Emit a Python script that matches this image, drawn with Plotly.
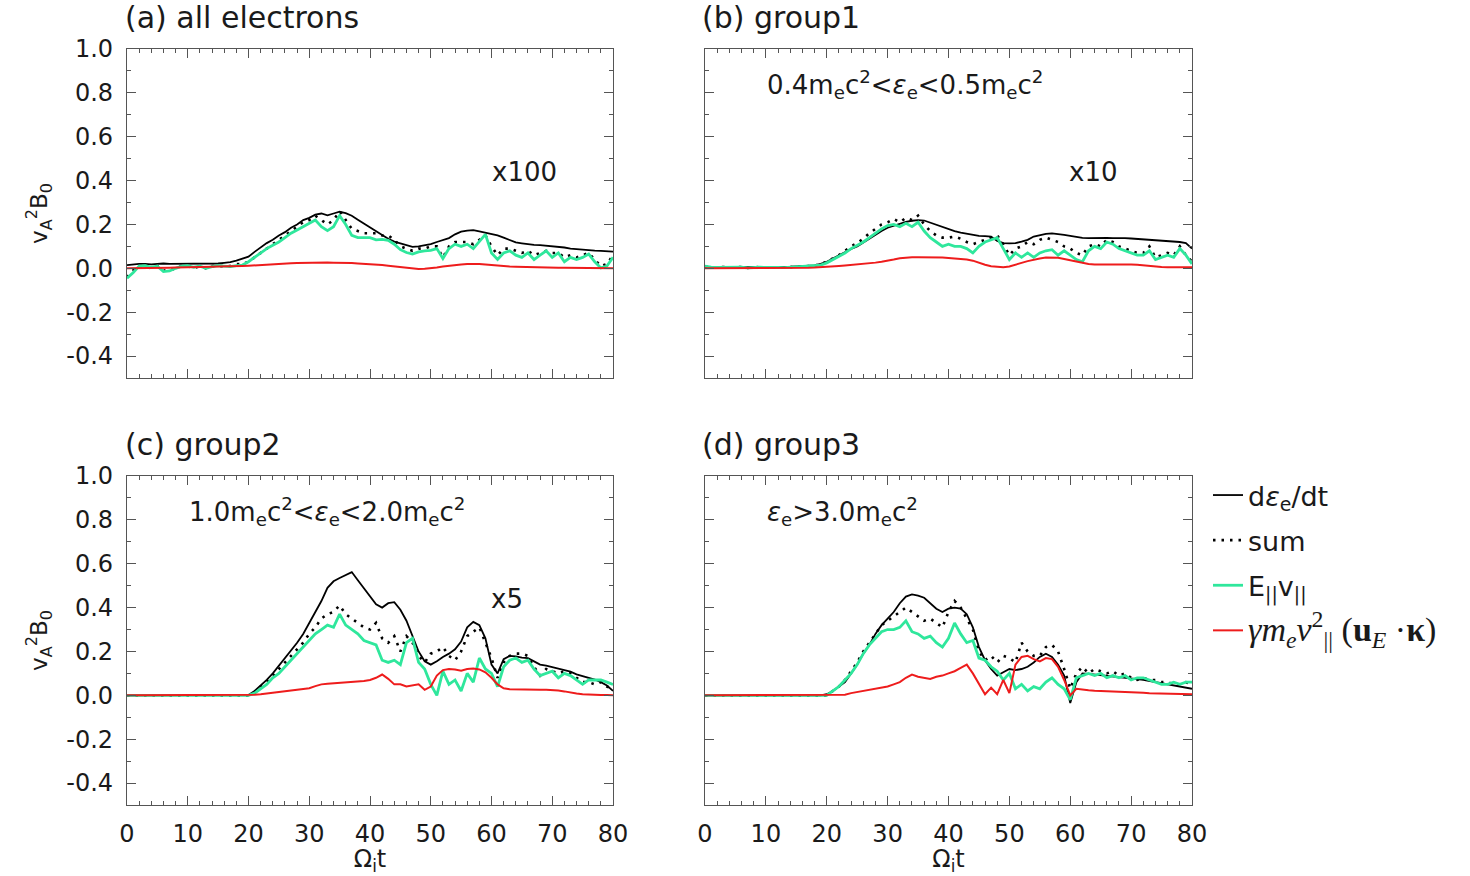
import plotly.graph_objects as go

# Time axis, Omega_i t
T = list(range(81))

# Tick labels (plain hyphen for negatives)
Y_TICKS = [-0.4, -0.2, 0.0, 0.2, 0.4, 0.6, 0.8, 1.0]
Y_TICK_TEXT = ["-0.4", "-0.2", "0.0", "0.2", "0.4", "0.6", "0.8", "1.0"]
X_TICKS = [0, 10, 20, 30, 40, 50, 60, 70, 80]

# ---- (a) all electrons (x100) ----
a_dedt = [0.015, 0.018, 0.02, 0.02, 0.018, 0.02, 0.022, 0.02, 0.02, 0.022,
          0.02, 0.021, 0.02, 0.022, 0.02, 0.022, 0.025, 0.028, 0.035, 0.045,
          0.053, 0.075, 0.095, 0.115, 0.13, 0.15, 0.165, 0.185, 0.2, 0.22,
          0.23, 0.245, 0.25, 0.242, 0.25, 0.258, 0.252, 0.24, 0.222, 0.205,
          0.19, 0.17, 0.152, 0.135, 0.122, 0.114, 0.105, 0.098, 0.1, 0.104,
          0.11, 0.12, 0.128, 0.138, 0.155, 0.167, 0.172, 0.174, 0.168, 0.162,
          0.158, 0.15, 0.14, 0.128, 0.118, 0.114, 0.11, 0.107, 0.106, 0.104,
          0.1, 0.098, 0.095, 0.09, 0.087, 0.085, 0.083, 0.081, 0.08, 0.078,
          0.076]
a_sum = [-0.04, -0.01, 0.01, 0.01, 0.0, 0.01, -0.01, -0.01, 0.0, 0.01,
         0.01, 0.0, 0.01, 0.0, 0.01, 0.01, 0.01, 0.01, 0.02, 0.02,
         0.03, 0.05, 0.07, 0.09, 0.11, 0.13, 0.15, 0.17, 0.19, 0.21,
         0.22, 0.24, 0.22, 0.20, 0.22, 0.26, 0.22, 0.18, 0.17, 0.16,
         0.16, 0.16, 0.15, 0.15, 0.13, 0.10, 0.09, 0.08, 0.09, 0.09,
         0.10, 0.10, 0.05, 0.10, 0.12, 0.12, 0.12, 0.11, 0.13, 0.15,
         0.10, 0.06, 0.09, 0.09, 0.08, 0.07, 0.08, 0.06, 0.07, 0.08,
         0.07, 0.07, 0.05, 0.06, 0.05, 0.06, 0.07, 0.04, 0.01, 0.02,
         0.06]
a_epar = [-0.045, -0.02, 0.01, 0.012, 0.005, 0.01, -0.015, -0.012, 0.0, 0.01,
          0.012, 0.005, 0.01, 0.0, 0.008, 0.012, 0.01, 0.008, 0.012, 0.015,
          0.03, 0.05, 0.07, 0.09, 0.105, 0.12, 0.14, 0.16, 0.175, 0.19,
          0.205, 0.22, 0.19, 0.172, 0.19, 0.24, 0.2, 0.15, 0.14, 0.14,
          0.14, 0.13, 0.132, 0.128, 0.11, 0.085, 0.072, 0.065, 0.075, 0.08,
          0.082, 0.09, 0.045, 0.09, 0.11, 0.1, 0.11, 0.09, 0.12, 0.155,
          0.07, 0.04, 0.07, 0.08, 0.06, 0.05, 0.07, 0.04, 0.06, 0.08,
          0.05, 0.07, 0.03, 0.05, 0.04, 0.05, 0.065, 0.03, 0.002, 0.01,
          0.05]
a_curv = [0.0, 0.0, 0.001, 0.001, 0.002, 0.002, 0.003, 0.003, 0.004, 0.004,
          0.005, 0.005, 0.006, 0.006, 0.007, 0.008, 0.008, 0.009, 0.01, 0.011,
          0.012, 0.014, 0.016, 0.018, 0.019, 0.02, 0.022, 0.023, 0.024, 0.025,
          0.026, 0.027, 0.027, 0.027, 0.026, 0.026, 0.025, 0.024, 0.022, 0.021,
          0.019, 0.017, 0.015, 0.012, 0.009, 0.006, 0.002, -0.002, -0.003, -0.002,
          0.0, 0.004, 0.008, 0.012, 0.015, 0.018, 0.02, 0.021, 0.02, 0.018,
          0.015, 0.012, 0.01, 0.008, 0.007, 0.006, 0.005, 0.005, 0.004, 0.004,
          0.004, 0.003, 0.003, 0.003, 0.002, 0.002, 0.002, 0.001, 0.001, 0.001,
          0.0]

# ---- (b) group1 (x10) ----
b_dedt = [0.005, 0.006, 0.005, 0.006, 0.005, 0.005, 0.006, 0.006, 0.005, 0.006,
          0.006, 0.007, 0.007, 0.008, 0.008, 0.009, 0.01, 0.011, 0.013, 0.02,
          0.03, 0.045, 0.06, 0.075, 0.088, 0.1, 0.118, 0.134, 0.152, 0.17,
          0.185, 0.195, 0.203, 0.212, 0.217, 0.22, 0.218, 0.208, 0.197, 0.187,
          0.178, 0.17, 0.163, 0.158, 0.152, 0.148, 0.147, 0.145, 0.125, 0.115,
          0.114, 0.115, 0.122, 0.13, 0.145, 0.152, 0.157, 0.159, 0.157, 0.153,
          0.148, 0.142, 0.139, 0.138, 0.139, 0.14, 0.139, 0.138, 0.139, 0.138,
          0.136, 0.134, 0.132, 0.131, 0.13, 0.128, 0.126, 0.124, 0.12, 0.115,
          0.09]
b_sum = [0.008, 0.005, 0.004, 0.006, 0.003, 0.005, 0.006, 0.002, 0.005, 0.006,
         0.004, 0.006, 0.005, 0.003, 0.006, 0.007, 0.008, 0.009, 0.012, 0.02,
         0.03, 0.045, 0.06, 0.08, 0.10, 0.115, 0.135, 0.16, 0.18, 0.20,
         0.21, 0.225, 0.21, 0.23, 0.22, 0.24, 0.20, 0.17, 0.15, 0.14,
         0.14, 0.145, 0.135, 0.12, 0.11, 0.12, 0.13, 0.14, 0.15, 0.11,
         0.06, 0.09, 0.10, 0.12, 0.11, 0.13, 0.14, 0.13, 0.12, 0.10,
         0.09, 0.07, 0.06, 0.10, 0.11, 0.10, 0.13, 0.12, 0.10, 0.09,
         0.08, 0.07, 0.07, 0.10, 0.05, 0.06, 0.07, 0.06, 0.10, 0.06,
         0.03]
b_epar = [0.01, 0.005, 0.004, 0.005, 0.003, 0.004, 0.005, 0.002, 0.004, 0.005,
          0.004, 0.005, 0.004, 0.003, 0.005, 0.006, 0.007, 0.008, 0.01, 0.015,
          0.025, 0.04, 0.055, 0.07, 0.09, 0.105, 0.12, 0.14, 0.16, 0.18,
          0.195, 0.20, 0.19, 0.205, 0.19, 0.21, 0.17, 0.14, 0.12, 0.10,
          0.11, 0.10, 0.10, 0.09, 0.07, 0.10, 0.12, 0.13, 0.14, 0.09,
          0.04, 0.07, 0.05, 0.07, 0.05, 0.07, 0.08, 0.085, 0.06, 0.08,
          0.06, 0.04, 0.03, 0.08, 0.10, 0.09, 0.12, 0.11, 0.09, 0.08,
          0.07, 0.06, 0.06, 0.08, 0.04, 0.05, 0.06, 0.05, 0.09, 0.06,
          0.02]
b_curv = [0.0, 0.0, 0.0, 0.0, 0.0, 0.0, 0.0, 0.0, 0.0, 0.0,
          0.001, 0.001, 0.001, 0.002, 0.002, 0.002, 0.003, 0.003, 0.004, 0.005,
          0.007, 0.009, 0.011, 0.013, 0.015, 0.017, 0.02, 0.023, 0.026, 0.03,
          0.034, 0.04, 0.046, 0.05, 0.051, 0.051, 0.051, 0.05, 0.05, 0.049,
          0.047, 0.045, 0.043, 0.04, 0.035, 0.025, 0.016, 0.01, 0.006, 0.005,
          0.008, 0.015, 0.025, 0.033, 0.04, 0.045, 0.049, 0.05, 0.048, 0.043,
          0.037, 0.03, 0.024, 0.02, 0.018, 0.018, 0.019, 0.02, 0.02, 0.019,
          0.018, 0.016, 0.013, 0.01, 0.008, 0.006, 0.005, 0.005, 0.005, 0.005,
          0.005]

# ---- (c) group2 (x5) ----
c_dedt = [0.0] * 20 + [
    0.002, 0.02, 0.045, 0.07, 0.1, 0.135, 0.17, 0.2, 0.24, 0.28,
    0.33, 0.38, 0.43, 0.49, 0.52, 0.535, 0.55, 0.562, 0.525, 0.49,
    0.455, 0.415, 0.4, 0.42, 0.425, 0.39, 0.34, 0.27, 0.2, 0.155,
    0.14, 0.155, 0.175, 0.19, 0.21, 0.245, 0.31, 0.335, 0.32, 0.26,
    0.14, 0.1, 0.165, 0.18, 0.178, 0.172, 0.17, 0.155, 0.14, 0.135,
    0.13, 0.122, 0.115, 0.108, 0.096, 0.088, 0.08, 0.072, 0.06, 0.045,
    0.02]
c_sum = [0.0] * 21 + [
    0.015, 0.04, 0.06, 0.09, 0.12, 0.15, 0.18, 0.21, 0.24,
    0.28, 0.31, 0.35, 0.37, 0.38, 0.41, 0.37, 0.35, 0.33, 0.31,
    0.30, 0.33, 0.26, 0.24, 0.27, 0.20, 0.27, 0.24, 0.18, 0.15,
    0.19, 0.20, 0.22, 0.18, 0.16, 0.20, 0.27, 0.29, 0.31, 0.24,
    0.17, 0.08, 0.15, 0.18, 0.19, 0.19, 0.18, 0.13, 0.09, 0.12,
    0.11, 0.10, 0.11, 0.10, 0.08, 0.06, 0.06, 0.05, 0.06, 0.04,
    0.03]
c_epar = [0.0] * 21 + [
    0.01, 0.03, 0.05, 0.08, 0.10, 0.13, 0.16, 0.19, 0.22,
    0.25, 0.28, 0.30, 0.32, 0.31, 0.37, 0.32, 0.30, 0.28, 0.25,
    0.24, 0.23, 0.16, 0.15, 0.16, 0.14, 0.24, 0.26, 0.15, 0.12,
    0.05, 0.0, 0.11, 0.05, 0.07, 0.02, 0.10, 0.06, 0.17, 0.12,
    0.10, 0.04, 0.13, 0.16, 0.17, 0.15, 0.16, 0.12, 0.09, 0.10,
    0.11, 0.08, 0.10, 0.09, 0.07, 0.05, 0.07, 0.07, 0.07, 0.06,
    0.05]
c_curv = [0.0] * 20 + [
    0.001, 0.003, 0.005, 0.008, 0.011, 0.015, 0.018, 0.022, 0.025, 0.028,
    0.032, 0.042, 0.05, 0.053, 0.055, 0.056, 0.056, 0.058, 0.06, 0.065,
    0.07, 0.08, 0.095, 0.075, 0.05, 0.05, 0.04, 0.045, 0.05, 0.025,
    0.04, 0.09, 0.115, 0.12, 0.118, 0.112, 0.12, 0.122, 0.118, 0.105,
    0.08, 0.05, 0.032, 0.028, 0.027, 0.026, 0.025, 0.025, 0.026, 0.026,
    0.025, 0.022, 0.018, 0.012, 0.008, 0.005, 0.003, 0.002, 0.001, 0.001,
    0.0]

# ---- (d) group3 ----
d_dedt = [0.0] * 20 + [
    0.005, 0.02, 0.04, 0.06, 0.1, 0.14, 0.19, 0.23, 0.28, 0.32,
    0.35, 0.38, 0.42, 0.45, 0.46, 0.455, 0.445, 0.42, 0.395, 0.38,
    0.395, 0.4, 0.395, 0.37, 0.31, 0.22, 0.16, 0.12, 0.09, 0.105,
    0.12, 0.115, 0.12, 0.13, 0.15, 0.175, 0.19, 0.175, 0.14, 0.09,
    -0.035, 0.06, 0.1, 0.098, 0.095, 0.092, 0.09, 0.088, 0.086, 0.082,
    0.078, 0.074, 0.07, 0.065, 0.06, 0.055, 0.05, 0.045, 0.04, 0.035,
    0.03]
d_sum = [0.0] * 21 + [
    0.02, 0.04, 0.07, 0.11, 0.15, 0.20, 0.24, 0.28, 0.32,
    0.34, 0.36, 0.38, 0.40, 0.38, 0.36, 0.34, 0.35, 0.33, 0.31,
    0.38, 0.43, 0.40, 0.35, 0.30, 0.20, 0.16, 0.18, 0.15, 0.18,
    0.17, 0.15, 0.24, 0.20, 0.18, 0.18, 0.22, 0.23, 0.20, 0.12,
    0.03, 0.10, 0.13, 0.10, 0.12, 0.11, 0.10, 0.11, 0.09, 0.10,
    0.08, 0.07, 0.08, 0.07, 0.07, 0.06, 0.06, 0.05, 0.05, 0.06,
    0.05]
d_epar = [0.0] * 21 + [
    0.02, 0.04, 0.07, 0.10, 0.14, 0.19, 0.23, 0.26, 0.29,
    0.30, 0.30, 0.31, 0.34, 0.29, 0.28, 0.26, 0.27, 0.24, 0.22,
    0.26, 0.33, 0.28, 0.24, 0.25, 0.17, 0.16, 0.13, 0.11, 0.07,
    0.10, 0.03, 0.05, 0.02, 0.04, 0.03, 0.06, 0.08, 0.05, 0.03,
    -0.02, 0.08, 0.09, 0.10, 0.09, 0.10, 0.08, 0.09, 0.08, 0.09,
    0.07, 0.08, 0.08, 0.07, 0.06, 0.05, 0.05, 0.06, 0.05, 0.06,
    0.06]
d_curv = [0.0] * 23 + [
    0.003, 0.01, 0.015, 0.02, 0.025, 0.03, 0.035,
    0.04, 0.05, 0.06, 0.08, 0.095, 0.085, 0.08, 0.075, 0.085, 0.09,
    0.10, 0.11, 0.125, 0.14, 0.10, 0.05, 0.005, 0.035, 0.005, 0.07,
    0.01, 0.14, 0.175, 0.18, 0.165, 0.155, 0.17, 0.165, 0.13, 0.07,
    0.0, 0.03, 0.025, 0.023, 0.021, 0.02, 0.018, 0.02, 0.018, 0.016,
    0.015, 0.013, 0.012, 0.01, 0.009, 0.008, 0.007, 0.006, 0.005, 0.005,
    0.005]

PANELS = [
    ("x", "y", a_dedt, a_sum, a_epar, a_curv),
    ("x2", "y2", b_dedt, b_sum, b_epar, b_curv),
    ("x3", "y3", c_dedt, c_sum, c_epar, c_curv),
    ("x4", "y4", d_dedt, d_sum, d_epar, d_curv),
]

SERIES_NAMES = [
    "d<i>ε</i><sub>e</sub>/dt",
    "sum",
    "E<sub>||</sub>v<sub>||</sub>",
    '<span style="font-family:\'Liberation Serif\';font-size:34px">'
    '<i>γm</i><sub><i>e</i></sub><i>v</i><sup>2</sup><sub>||</sub> '
    '(<b>u</b><sub><i>E</i></sub> ·<b>κ</b>)</span>',
]
GREEN = "#2fe79c"
RED = "#ee1c1c"
SERIES_STYLE = [
    dict(color="black", width=1.8),
    dict(color="black", width=2.6, dash="2.5px,6px"),
    dict(color=GREEN, width=2.8),
    dict(color=RED, width=2),
]

FONT = "DejaVu Sans"
INK = "#1a1a1a"
AX = "#555555"

fig = go.Figure()
for p, (xa, ya, *series) in enumerate(PANELS):
    for k, vals in enumerate(series):
        fig.add_trace(go.Scatter(
            x=T, y=vals, xaxis=xa, yaxis=ya, mode="lines",
            line=SERIES_STYLE[k], name=SERIES_NAMES[k],
            legendgroup=f"s{k}", showlegend=(p == 0),
        ))

W, H = 1470, 876
XL = [127 / W, 613 / W]
XR = [705 / W, 1192 / W]
YT = [1 - 378 / H, 1 - 49 / H]
YB = [1 - 805 / H, 1 - 476 / H]


def xaxis(domain, anchor, labels):
    ax = dict(
        domain=domain, anchor=anchor, range=[0, 80],
        tickmode="array", tickvals=X_TICKS, ticktext=[str(v) for v in X_TICKS],
        ticks="inside", ticklen=9, tickwidth=1, tickcolor=AX,
        showline=True, linecolor=AX, linewidth=1.2, mirror="ticks",
        minor=dict(ticks="inside", dtick=2, ticklen=4, tickcolor=AX),
        showgrid=False, zeroline=False, showticklabels=labels,
        ticklabelstandoff=7, automargin=False,
        tickfont=dict(family=FONT, size=24, color=INK),
    )
    if labels:
        ax["title"] = dict(text="Ω<sub>i</sub>t", standoff=9,
                           font=dict(family=FONT, size=24, color=INK))
    return ax


def yaxis(domain, anchor, labels):
    ax = dict(
        domain=domain, anchor=anchor, range=[-0.5, 1.0],
        tickmode="array", tickvals=Y_TICKS, ticktext=Y_TICK_TEXT,
        ticks="inside", ticklen=9, tickwidth=1, tickcolor=AX,
        showline=True, linecolor=AX, linewidth=1.2, mirror="ticks",
        minor=dict(ticks="inside", dtick=0.1, ticklen=4, tickcolor=AX),
        showgrid=False, zeroline=False, showticklabels=labels,
        ticklabelstandoff=8, automargin=False,
        tickfont=dict(family=FONT, size=24, color=INK),
    )
    if labels:
        ax["title"] = dict(text="v<sub>A</sub><sup>2</sup>B<sub>0</sub>",
                           standoff=12,
                           font=dict(family=FONT, size=23, color=INK))
    return ax


annotations = []
TITLES = [("(a) all electrons", 123, 18), ("(b) group1", 700, 18),
          ("(c) group2", 123, 445), ("(d) group3", 700, 445)]
for text, px, py in TITLES:
    annotations.append(dict(
        text=text, xref="paper", yref="paper", x=px / W, y=1 - py / H,
        xanchor="left", yanchor="middle", showarrow=False,
        font=dict(family=FONT, size=30, color=INK)))

SCALES = [("x", "y", "x100", 65.5), ("x2", "y2", "x10", 63.7),
          ("x3", "y3", "x5", 62.5)]
for xa, ya, text, xc in SCALES:
    annotations.append(dict(
        text=text, xref=xa, yref=ya, x=xc, y=0.44,
        xanchor="center", yanchor="middle", showarrow=False,
        font=dict(family=FONT, size=26, color=INK)))

RANGES = [
    ("x2", "y2", "0.4m<sub>e</sub>c<sup>2</sup>&lt;<i>ε</i><sub>e</sub>&lt;0.5m<sub>e</sub>c<sup>2</sup>"),
    ("x3", "y3", "1.0m<sub>e</sub>c<sup>2</sup>&lt;<i>ε</i><sub>e</sub>&lt;2.0m<sub>e</sub>c<sup>2</sup>"),
    ("x4", "y4", "<i>ε</i><sub>e</sub>&gt;3.0m<sub>e</sub>c<sup>2</sup>"),
]
for xa, ya, text in RANGES:
    annotations.append(dict(
        text=text, xref=xa, yref=ya, x=9.8, y=0.84,
        xanchor="left", yanchor="middle", showarrow=False,
        font=dict(family=FONT, size=26, color=INK)))

fig.update_layout(
    width=W, height=H,
    margin=dict(l=0, r=0, t=0, b=0, pad=0, autoexpand=False),
    paper_bgcolor="white", plot_bgcolor="white",
    xaxis=xaxis(XL, "y", False), yaxis=yaxis(YT, "x", True),
    xaxis2=xaxis(XR, "y2", False), yaxis2=yaxis(YT, "x2", False),
    xaxis3=xaxis(XL, "y3", True), yaxis3=yaxis(YB, "x3", True),
    xaxis4=xaxis(XR, "y4", True), yaxis4=yaxis(YB, "x4", False),
    showlegend=True,
    legend=dict(x=1208 / W, y=1 - 471 / H, xanchor="left", yanchor="top",
                font=dict(family=FONT, size=27, color=INK),
                bgcolor="rgba(0,0,0,0)", itemwidth=30,
                traceorder="grouped", tracegroupgap=7),
    annotations=annotations,
)

fig.write_html("out.html")
